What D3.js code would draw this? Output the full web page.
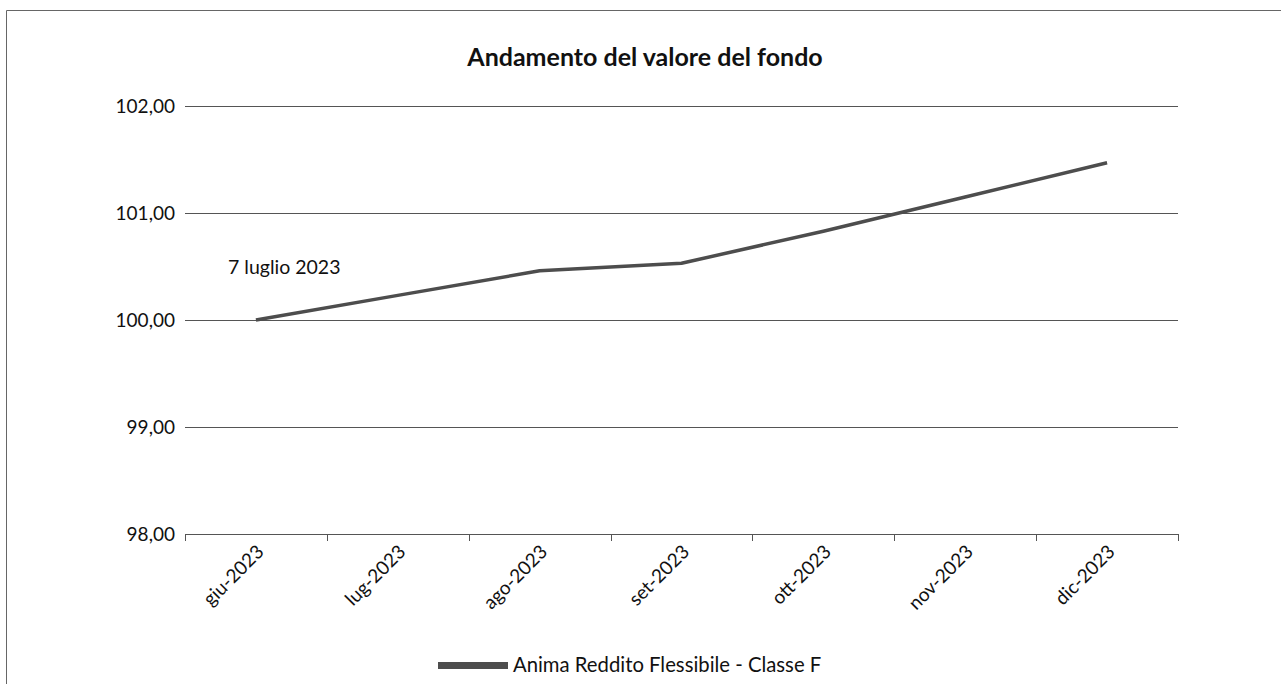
<!DOCTYPE html>
<html><head><meta charset="utf-8">
<script src="https://cdn.jsdelivr.net/npm/d3@7"></script>
<style>html,body{margin:0;padding:0;background:#fff;}svg{display:block;font-family:Lato,"Open Sans",sans-serif;}</style>
</head><body>
<svg id="c" width="1281" height="684"></svg>
<script>
const categories = ["giu-2023","lug-2023","ago-2023","set-2023","ott-2023","nov-2023","dic-2023"];
const values = [100.00, 100.23, 100.46, 100.53, 100.83, 101.15, 101.47];
const yTicks = [98, 99, 100, 101, 102];
const seriesName = "Anima Reddito Flessibile - Classe F";
const title = "Andamento del valore del fondo";
const note = "7 luglio 2023";

const svg = d3.select("#c");
const col = "#4d4d4d";
// border
svg.append("path").attr("d","M6.5,684 L6.5,10.5 L1281,10.5").attr("fill","none").attr("stroke","#666").attr("stroke-width",1);

const x = d3.scaleBand().domain(categories).range([185,1178]);
const y = d3.scaleLinear().domain([98,102]).range([534,106]);
const fmt = v => d3.format(".2f")(v).replace(".",",");

// gridlines
svg.append("g").selectAll("line").data(yTicks).join("line")
  .attr("x1",185).attr("x2",1178)
  .attr("y1",d=>Math.round(y(d))+0.5).attr("y2",d=>Math.round(y(d))+0.5)
  .attr("stroke","#555").attr("stroke-width",1);
// y labels
svg.append("g").selectAll("text").data(yTicks).join("text")
  .attr("x",175).attr("y",d=>y(d)+7).attr("text-anchor","end")
  .attr("font-size",19).attr("fill","#111").text(fmt);

// x axis ticks
const bounds = categories.map(c=>x(c)).concat([x.range()[1]]);
svg.append("g").selectAll("line").data(bounds).join("line")
  .attr("x1",d=>Math.round(d)+0.5).attr("x2",d=>Math.round(d)+0.5)
  .attr("y1",534).attr("y2",541).attr("stroke","#555").attr("stroke-width",1);
// x labels
svg.append("g").selectAll("text").data(categories).join("text")
  .attr("transform",d=>`translate(${x(d)+x.bandwidth()/2+9},${553}) rotate(-45)`)
  .attr("text-anchor","end").attr("font-size",19).attr("fill","#111").text(d=>d);

// line
const line = d3.line().x((d,i)=>x(categories[i])+x.bandwidth()/2).y(d=>y(d));
svg.append("path").datum(values).attr("d",line).attr("fill","none")
  .attr("stroke",col).attr("stroke-width",3.5).attr("stroke-linejoin","round");

// title
svg.append("text").attr("x",645).attr("y",66).attr("text-anchor","middle")
  .attr("font-size",25).attr("font-weight","bold").attr("fill","#111").text(title);
// note
svg.append("text").attr("x",228).attr("y",274).attr("font-size",19.5).attr("fill","#111").text(note);

// legend
svg.append("rect").attr("x",438).attr("y",662).attr("width",70).attr("height",7).attr("fill",col);
svg.append("text").attr("x",513).attr("y",672).attr("font-size",20.3).attr("fill","#111").text(seriesName);
</script>
</body></html>
